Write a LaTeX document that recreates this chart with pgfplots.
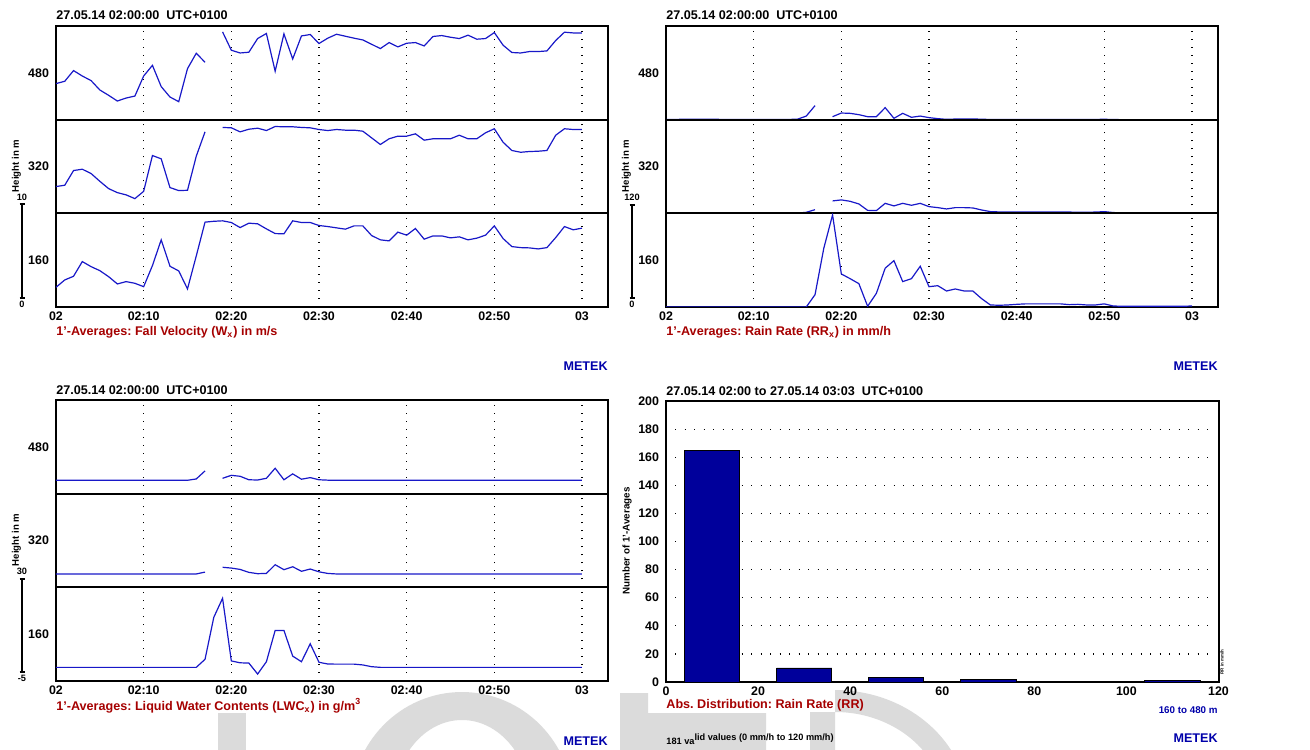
\documentclass[border=0pt]{standalone}
\usepackage{fontspec}
\setmainfont{Liberation Sans}
\usepackage{pgfplots}
\pgfplotsset{compat=1.18}
\usepackage{pgfplotstable}

\definecolor{lineblue}{RGB}{24,24,200}
\definecolor{labelred}{RGB}{165,0,0}
\definecolor{metekblue}{RGB}{0,0,170}
\definecolor{barblue}{RGB}{0,0,155}
\definecolor{wmgray}{RGB}{219,219,219}

\newcommand{\fs}[1]{\fontsize{#1}{#1}\selectfont\bfseries}

% 1'-averages of fall velocity W (m/s) at three range gates
\pgfplotstableread{
t h480 h320 h160
0 3.85 2.86 2.10
1 4.10 3.00 2.89
2 5.24 4.57 3.28
3 4.66 4.71 4.85
4 4.17 4.25 4.31
5 3.17 3.42 3.88
6 2.60 2.64 3.24
7 1.99 2.21 2.46
8 2.31 1.97 2.71
9 2.52 1.57 2.53
10 4.66 2.35 2.17
11 5.80 6.17 4.42
12 3.53 5.82 7.17
13 2.42 2.75 4.35
14 1.92 2.43 3.85
15 5.45 2.46 1.93
16 7.09 6.10 5.45
17 6.13 8.70 9.06
18 nan nan 9.15
19 9.37 9.17 9.20
20 7.41 9.13 9.02
21 7.12 8.70 8.48
22 7.20 8.98 8.95
23 8.66 9.09 8.88
24 9.20 8.84 8.34
25 5.17 9.27 7.84
26 9.16 9.24 7.81
27 6.48 9.24 9.20
28 8.94 9.17 9.02
29 9.09 9.13 9.02
30 8.13 8.95 8.70
31 8.70 8.84 8.59
32 9.12 8.95 8.45
33 8.91 8.88 8.31
34 8.70 8.88 8.66
35 8.51 8.77 8.66
36 8.05 8.06 7.63
37 7.59 7.35 7.17
38 8.23 7.96 7.06
39 7.77 8.24 7.99
40 8.16 8.24 7.67
41 8.23 8.49 8.38
42 7.87 7.81 7.24
43 8.88 7.96 7.59
44 8.98 7.96 7.59
45 8.80 7.96 7.38
46 8.66 8.34 7.49
47 9.02 7.96 7.17
48 8.59 7.96 7.35
49 8.66 8.60 7.67
50 9.30 9.03 8.66
51 7.95 7.59 7.31
52 7.17 6.71 6.45
53 7.12 6.52 6.34
54 7.27 6.60 6.31
55 7.27 6.63 6.20
56 7.34 6.71 6.34
57 8.45 8.34 7.41
58 9.34 9.03 8.59
59 9.26 8.95 8.24
60 9.26 8.95 8.42
}\Wtab

% 1'-averages of rain rate RR (mm/h)
\pgfplotstableread{
t h480 h320 h160
0 0.2 0.3 0
1 0.3 0.3 0
2 0.5 0.5 0
3 0.6 0.8 0
4 0.6 0.8 0
5 0.5 0.7 0
6 0.4 0.4 0
7 0.3 0.3 0
8 0.3 0.3 0
9 0.3 0.3 0
10 0.3 0.3 0
11 0.3 0.4 0
12 0.3 0.4 0
13 0.3 0.3 0
14 0.3 0.3 0
15 0.6 0.3 0
16 4.6 1.3 0
17 18.0 4.7 15.8
18 nan nan 75.3
19 3.8 15.9 118.0
20 8.5 17.2 42.3
21 8.1 15.4 36.3
22 6.4 12.0 29.9
23 3.8 3.8 0.9
24 3.8 3.5 17.6
25 15.4 12.8 49.7
26 1.7 9.5 59.4
27 8.1 12.8 32.5
28 3.0 10.3 36.3
29 4.6 12.8 52.2
30 2.6 8.6 26.0
31 1.3 7.3 27.3
32 0.4 5.6 20.5
33 0.8 7.3 23.1
34 1.0 7.3 20.5
35 1.0 6.9 20.5
36 0.5 4.3 10.7
37 0.3 2.2 2.6
38 0.3 1.8 2.2
39 0.3 1.8 2.6
40 0.3 1.8 3.4
41 0.3 1.8 4.0
42 0.3 1.8 4.0
43 0.3 1.8 4.0
44 0.3 1.7 4.0
45 0.3 1.7 4.0
46 0.3 1.6 3.0
47 0.3 1.5 3.4
48 0.3 1.5 2.6
49 0.3 1.6 2.6
50 0.5 2.2 4.0
51 0.2 1.0 1.3
52 0 0.6 0.9
53 0 0.5 0.9
54 0 0.5 0.9
55 0 0.5 0.9
56 0 0.5 0.9
57 0 0.5 0.9
58 0 0.5 0.9
59 0 0.5 0.9
60 0 0.6 1.3
}\RRtab

% 1'-averages of liquid water content LWC (g/m^3)
\pgfplotstableread{
t h480 h320 h160
0 0 0 0.1
1 0 0 0.1
2 0 0 0.1
3 0 0 0.1
4 0 0 0.1
5 0 0 0.1
6 0 0 0.1
7 0 0 0.1
8 0 0 0.1
9 0 0 0.1
10 0 0 0.1
11 0 0 0.1
12 0 0 0.1
13 0 0 0.1
14 0 0 0.1
15 0 0 0.1
16 0.5 0 0.1
17 3.5 0.7 3.1
18 nan nan 18.8
19 0.75 2.5 25.9
20 1.85 2.2 2.5
21 1.5 1.7 1.8
22 0.2 0.6 1.7
23 0.1 0.1 -2.4
24 0.75 0.2 2.2
25 4.5 3.45 13.9
26 0.2 1.6 13.9
27 2.4 2.7 4.3
28 0.4 1.0 2.2
29 1.0 1.84 8.9
30 0.2 0.8 2.0
31 0.05 0.2 1.35
32 0 0 1.3
33 0 0 1.3
34 0 0 1.3
35 0 0 1.0
36 0 0 0.35
37 0 0 0.1
38 0 0 0.1
39 0 0 0.1
40 0 0 0.1
41 0 0 0.1
42 0 0 0.1
43 0 0 0.1
44 0 0 0.1
45 0 0 0.1
46 0 0 0.1
47 0 0 0.1
48 0 0 0.1
49 0 0 0.1
50 0 0 0.1
51 0 0 0.1
52 0 0 0.1
53 0 0 0.1
54 0 0 0.1
55 0 0 0.1
56 0 0 0.1
57 0 0 0.1
58 0 0 0.1
59 0 0 0.1
60 0 0 0.1
}\LWCtab

\pgfplotsset{
  sub/.style={
    scale only axis, anchor=north west,
    width=276.15pt, height=46.83pt,
    xmin=0, xmax=63,
    axis line style={line width=1pt},
    xtick={0,10,...,60}, xticklabels={},
    xmajorgrids,
    grid style={black, line width=0.55pt, dash pattern=on 0.55pt off 3.45pt},
    major tick length=0pt,
    ticklabel style={font=\fs{6.2}},
    xticklabel style={yshift=1pt},
    unbounded coords=jump,
  },
  bottomsub/.style={xticklabels={02,02:10,02:20,02:30,02:40,02:50,03}},
  wsc/.style={ymin=0, ymax=10, ytick={5}},
  rrsc/.style={ymin=0, ymax=120, ytick={60}},
  lwcsc/.style={ymin=-5, ymax=30, ytick={12.5}},
  dline/.style={color=lineblue, line width=0.6pt, mark=none},
}

\begin{document}
\frenchspacing
\begin{tikzpicture}
% one unit = one pixel of a 1310 x 749 canvas, y pointing down
\begin{scope}[x=0.5pt, y=-0.5pt]
\useasboundingbox (0,0) rectangle (1310,749);
% background lettering
\begin{scope}
  \clip (0,0) rectangle (1310,749);
  \fill[wmgray] (218,713) rectangle (246,760);
  \fill[wmgray, even odd rule] (462,805) ellipse [x radius=55.5pt, y radius=56.5pt]
                                (462,805) ellipse [x radius=34.5pt, y radius=42.5pt];
  \fill[wmgray] (620,693) -- (648,693) -- (648,713) -- (766,713) -- (766,760) -- (620,760) -- cycle;
  \fill[wmgray] (810,712) rectangle (835,760);
  \fill[wmgray, even odd rule] (835,690) arc[start angle=90, end angle=-10, x radius=67pt, y radius=60pt] -- (835,760) -- cycle
        (835,712) arc[start angle=90, end angle=-10, x radius=55pt, y radius=48pt] -- (835,760) -- cycle;
\end{scope}
\end{scope}

% ---------------- fall velocity ----------------
\begin{axis}[sub, wsc, at={(28pt,-13pt)}, yticklabels={480}]
  \addplot[dline] table[x=t, y=h480] {\Wtab};
\end{axis}
\begin{axis}[sub, wsc, at={(28pt,-59.835pt)}, yticklabels={320}]
  \addplot[dline] table[x=t, y=h320] {\Wtab};
\end{axis}
\begin{axis}[sub, wsc, bottomsub, at={(28pt,-106.665pt)}, yticklabels={160}]
  \addplot[dline] table[x=t, y=h160] {\Wtab};
\end{axis}

% ---------------- rain rate ----------------
\begin{axis}[sub, rrsc, at={(333pt,-13pt)}, yticklabels={480}]
  \addplot[dline] table[x=t, y=h480] {\RRtab};
\end{axis}
\begin{axis}[sub, rrsc, at={(333pt,-59.835pt)}, yticklabels={320}]
  \addplot[dline] table[x=t, y=h320] {\RRtab};
\end{axis}
\begin{axis}[sub, rrsc, bottomsub, at={(333pt,-106.665pt)}, yticklabels={160}]
  \addplot[dline] table[x=t, y=h160] {\RRtab};
\end{axis}

% ---------------- liquid water content ----------------
\begin{axis}[sub, lwcsc, at={(28pt,-200pt)}, yticklabels={480}]
  \addplot[dline] table[x=t, y=h480] {\LWCtab};
\end{axis}
\begin{axis}[sub, lwcsc, at={(28pt,-246.835pt)}, yticklabels={320}]
  \addplot[dline] table[x=t, y=h320] {\LWCtab};
\end{axis}
\begin{axis}[sub, lwcsc, bottomsub, at={(28pt,-293.665pt)}, yticklabels={160}]
  \addplot[dline] table[x=t, y=h160] {\LWCtab};
\end{axis}

% ---------------- rain rate distribution ----------------
\begin{axis}[
  scale only axis, anchor=north west, at={(333pt,-200.5pt)},
  width=276.25pt, height=140.5pt,
  xmin=0, xmax=120, ymin=0, ymax=200,
  xtick={0,20,...,120}, ytick={0,20,...,200},
  major tick length=0pt,
  axis line style={line width=1pt},
  /pgf/number format/assume math mode=true,
  ticklabel style={font=\fs{6.2}},
  xticklabel style={yshift=1pt},
]
  % horizontal guide lines, inset from the frame
  \pgfplotsinvokeforeach{20,40,...,180}{
    \draw[black, line width=0.6pt, dash pattern=on 0.6pt off 4.15pt]
      (axis cs:2,#1) -- (axis cs:118.5,#1);
  }
  \addplot[ybar, bar width=12, fill=barblue, draw=black, line width=0.4pt]
    coordinates {(10,165) (30,10) (50,3) (70,2) (110,1)};
\end{axis}

% ---------------- texts ----------------
\begin{scope}[x=0.5pt, y=-0.5pt]
\tikzset{lab/.style={inner sep=0pt, font=\fs{6.3}}}
\node[lab, anchor=base west] at (56,20) {27.05.14 02:00:00\ \ UTC+0100};
\node[lab, anchor=base west] at (666,20) {27.05.14 02:00:00\ \ UTC+0100};
\node[lab, anchor=base west] at (56,394) {27.05.14 02:00:00\ \ UTC+0100};
\node[lab, anchor=base west] at (666,395) {27.05.14 02:00 to 27.05.14 03:03\ \ UTC+0100};

\node[lab, anchor=base west, text=labelred] at (56,335) {1'-Averages: Fall Velocity (W\textsubscript{x}) in m/s};
\node[lab, anchor=base west, text=labelred] at (666,335) {1'-Averages: Rain Rate (RR\textsubscript{x}) in mm/h};
\node[lab, anchor=base west, text=labelred] at (56,710) {1'-Averages: Liquid Water Contents (LWC\textsubscript{x}) in g/m\textsuperscript{3}};
\node[lab, anchor=base west, text=labelred] at (666,708) {Abs. Distribution: Rain Rate (RR)};

\node[lab, anchor=base east, text=metekblue] at (608,370) {METEK};
\node[lab, anchor=base east, text=metekblue] at (1218,370) {METEK};
\node[lab, anchor=base east, text=metekblue] at (608,745) {METEK};
\node[lab, anchor=base east, text=metekblue] at (1218,742) {METEK};

\node[inner sep=0pt, font=\fs{4.8}, rotate=90] at (16.5,166) {Height in m};
\node[inner sep=0pt, font=\fs{4.8}, rotate=90] at (626.5,166) {Height in m};
\node[inner sep=0pt, font=\fs{4.8}, rotate=90] at (16.5,540) {Height in m};
\node[inner sep=0pt, font=\fs{4.9}, rotate=90] at (627,541) {Number of 1'-Averages};

% value scale bars of the stacked panels
\draw[line width=1pt] (22,204) -- (22,298) (19.5,204) -- (24.5,204) (19.5,298) -- (24.5,298);
\node[inner sep=0pt, font=\fs{4.6}] at (22,197) {10};
\node[inner sep=0pt, font=\fs{4.6}] at (22,304) {0};
\draw[line width=1pt] (632,205) -- (632,298) (629.5,205) -- (634.5,205) (629.5,298) -- (634.5,298);
\node[inner sep=0pt, font=\fs{4.6}] at (632,197) {120};
\node[inner sep=0pt, font=\fs{4.6}] at (632,304) {0};
\draw[line width=1pt] (22,579) -- (22,672) (19.5,579) -- (24.5,579) (19.5,672) -- (24.5,672);
\node[inner sep=0pt, font=\fs{4.6}] at (22,571) {30};
\node[inner sep=0pt, font=\fs{4.6}] at (22,678) {-5};

\node[inner sep=0pt, anchor=base east, text=metekblue, font=\fs{4.9}] at (1218,713) {160 to 480 m};
\node[inner sep=0pt, anchor=base west, font=\fs{4.6}] at (666,744) {181 va\raisebox{1.6pt}{lid values (0 mm/h to 120 mm/h)}};
\node[inner sep=0pt, font=\fs{2.2}, rotate=90] at (1222,662) {RR in mm/h};
\end{scope}
\end{tikzpicture}
\end{document}
